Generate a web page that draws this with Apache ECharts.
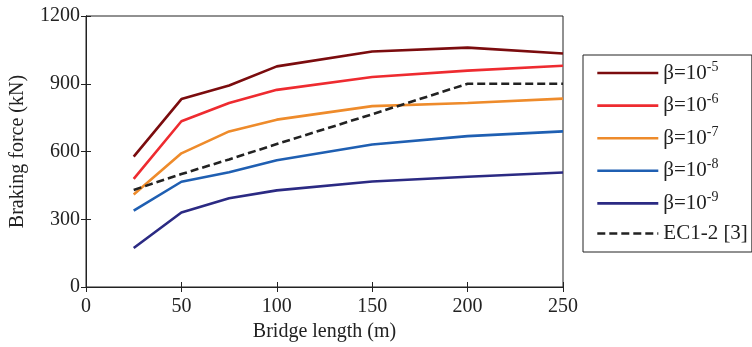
<!DOCTYPE html>
<html><head><meta charset="utf-8">
<script src="https://cdn.jsdelivr.net/npm/echarts@6/dist/echarts.min.js"></script>
<style>html,body{margin:0;padding:0;background:#fff}#c{width:752px;height:347px}</style>
</head><body><div id="c"></div>
<script>
const lengths = [25, 50, 75, 100, 150, 200, 250];
const beta5 = [577, 832, 892, 977, 1043, 1060, 1034];
const beta6 = [479, 734, 815, 873, 930, 958, 980];
const beta7 = [410, 592, 689, 741, 801, 815, 834];
const beta8 = [338, 466, 508, 561, 631, 668, 689];
const beta9 = [173, 330, 393, 428, 467, 488, 507];
const ec12 = [430, 500, 565, 633, 765, 900, 900];
const names = ['β=10{s|-5}', 'β=10{s|-6}', 'β=10{s|-7}', 'β=10{s|-8}', 'β=10{s|-9}', 'EC1-2 [3]'];
const colors = ['#7b0c0e', '#ee2b30', '#ee8b2b', '#1f5fb2', '#2b2a83', '#222222'];
const allData = [beta5, beta6, beta7, beta8, beta9, ec12];

const font = 'Liberation Serif';
const series = allData.map((arr, i) => ({
  name: names[i],
  type: 'line',
  data: lengths.map((x, j) => [x, arr[j]]),
  showSymbol: false,
  symbol: 'none',
  lineStyle: { color: colors[i], width: 2.6, type: i === 5 ? [8, 4] : 'solid' },
  itemStyle: { color: colors[i] },
  animation: false
}));

const chart = echarts.init(document.getElementById('c'));
chart.setOption({
  backgroundColor: '#fff',
  animation: false,
  grid: { left: 86, right: 189, top: 16, bottom: 58, show: true, borderColor: '#222', borderWidth: 1 },
  xAxis: [{
    type: 'value', min: 0, max: 250, interval: 50,
    name: 'Bridge length (m)', nameLocation: 'middle', nameGap: 35,
    nameTextStyle: { fontFamily: font, fontSize: 20, color: '#222' },
    axisLine: { show: true, onZero: false, lineStyle: { color: '#222' } },
    axisTick: { inside: true, length: 5, lineStyle: { color: '#222' } },
    axisLabel: { fontFamily: font, fontSize: 20, color: '#222', margin: 10 },
    splitLine: { show: false }
  }, {
    type: 'value', min: 0, max: 250, interval: 50, position: 'top',
    axisLine: { show: true, lineStyle: { color: '#222' } },
    axisTick: { inside: true, length: 5, lineStyle: { color: '#222' } },
    axisLabel: { show: false }, splitLine: { show: false }
  }],
  yAxis: [{
    type: 'value', min: 0, max: 1200, interval: 300,
    name: 'Braking force (kN)', nameLocation: 'middle', nameGap: 58,
    nameTextStyle: { fontFamily: font, fontSize: 20, color: '#222' },
    axisLine: { show: true, lineStyle: { color: '#222' } },
    axisTick: { inside: true, length: 5, lineStyle: { color: '#222' } },
    axisLabel: { fontFamily: font, fontSize: 20, color: '#222', margin: 6, formatter: v => String(v) },
    splitLine: { show: false }
  }, {
    type: 'value', min: 0, max: 1200, interval: 300, position: 'right',
    axisLine: { show: true, lineStyle: { color: '#222' } },
    axisTick: { inside: true, length: 5, lineStyle: { color: '#222' } },
    axisLabel: { show: false }, splitLine: { show: false }
  }],
  legend: {
    orient: 'vertical', left: 583, top: 55,
    padding: [5, 4, 8, 13],
    borderColor: '#222', borderWidth: 1,
    itemWidth: 61, itemHeight: 14, itemGap: 6.6,
    itemStyle: { opacity: 0 },
    lineStyle: { width: 2.6 },
    data: names,
    textStyle: {
      fontFamily: font, fontSize: 21, color: '#222', lineHeight: 20,
      rich: { s: { fontFamily: font, fontSize: 14, color: '#222', verticalAlign: 'top', lineHeight: 26 } }
    }
  },
  series: series
});
</script></body></html>
